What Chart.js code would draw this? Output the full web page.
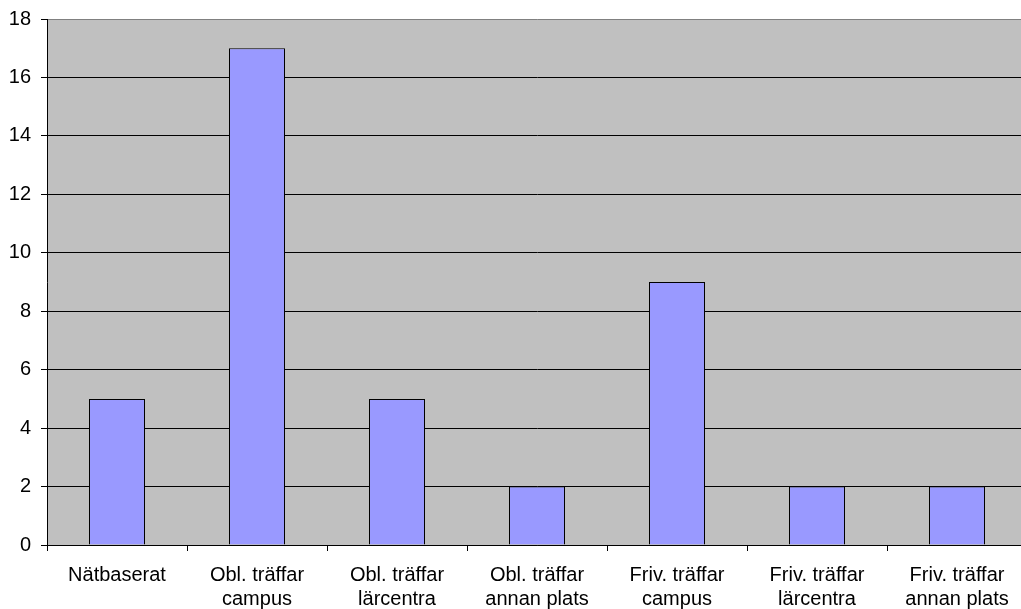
<!DOCTYPE html>
<html><head><meta charset="utf-8">
<script src="https://cdn.jsdelivr.net/npm/chart.js@4/dist/chart.umd.min.js"></script>
<style>html,body{margin:0;padding:0;background:#fff;overflow:hidden}#w{width:1021px;height:609px;overflow:hidden}</style>
</head><body><div id="w"><canvas id="c" width="1030" height="609"></canvas></div>
<script>
const categories = [["Nätbaserat"],["Obl. träffar","campus"],["Obl. träffar","lärcentra"],["Obl. träffar","annan plats"],["Friv. träffar","campus"],["Friv. träffar","lärcentra"],["Friv. träffar","annan plats"]];
const values = [5,17,5,2,9,2,2];
const yTicks = [0,2,4,6,8,10,12,14,16,18];

const bgPlugin = {
  id:'bg',
  beforeDraw(chart){
    const {ctx, chartArea:a} = chart;
    ctx.save();
    ctx.fillStyle = '#C0C0C0';
    ctx.fillRect(a.left, a.top, a.right-a.left, a.bottom-a.top);
    ctx.restore();
  }
};

new Chart(document.getElementById('c'), {
  type:'bar',
  data:{labels:categories, datasets:[{data:values, backgroundColor:'#9999FF', borderColor:'#000000', borderWidth:1, barPercentage:0.4, categoryPercentage:1.0}]},
  options:{
    responsive:false, animation:false,
    layout:{padding:{left:0, top:19, right:3, bottom:0}},
    plugins:{legend:{display:false}, tooltip:{enabled:false}},
    scales:{
      x:{
        offset:true,
        grid:{offset:true, drawOnChartArea:false, color:'#000', tickLength:6, tickColor:'#000'},
        border:{color:'#000', width:1},
        ticks:{color:'#000', font:{family:'Liberation Sans, Arial', size:20}, maxRotation:0, autoSkip:false, padding:12},
        afterFit(s){ s.height = 64; s.paddingLeft = 0; s.paddingRight = 0; }
      },
      y:{
        min:0, max:18,
        afterBuildTicks(s){ s.ticks = yTicks.map(v=>({value:v})); },
        grid:{color:(c)=> c.tick && c.tick.value===18 ? '#808080' : '#000', tickLength:6, tickColor:'#000'},
        border:{color:'#000', width:1},
        ticks:{color:'#000', font:{family:'Liberation Sans, Arial', size:20}, padding:10},
        afterFit(s){ s.width = 47; s.paddingTop = 0; s.paddingBottom = 0; }
      }
    }
  },
  plugins:[bgPlugin]
});
</script></body></html>
